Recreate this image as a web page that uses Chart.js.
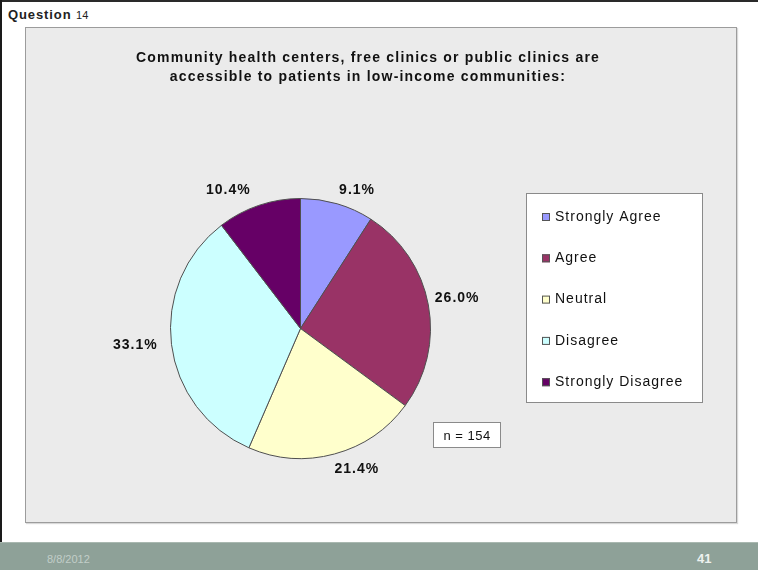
<!doctype html>
<html>

<head>
    <meta charset="utf-8">
    <title>Question 14</title>
    <script src="https://cdn.jsdelivr.net/npm/chart.js"></script>
    <style>
        body {
            margin: 0;
            background: #fff;
            font-family: "Liberation Sans", Arial, sans-serif;
        }

        .slide {
            position: relative;
            width: 758px;
            height: 570px;
            overflow: hidden;
            background: #fff;
        }

        .edge-top {
            position: absolute;
            left: 0;
            top: 0;
            width: 758px;
            height: 2px;
            background: #2a2a2a;
        }

        .edge-left {
            position: absolute;
            left: 0;
            top: 0;
            width: 2px;
            height: 570px;
            background: #1a1a1a;
        }

        .question {
            position: absolute;
            left: 8px;
            top: 7px;
            color: #222;
            font-weight: bold;
            font-size: 13px;
            letter-spacing: 0.9px;
        }

        .question span {
            font-weight: normal;
            font-size: 11px;
            letter-spacing: 0;
        }

        .panel {
            position: absolute;
            left: 25px;
            top: 27px;
            width: 710px;
            height: 494px;
            border: 1px solid #9c9c9c;
            background: #ebebeb;
            box-shadow: 1px 1px 1px rgba(0, 0, 0, 0.15);
        }

        .panel canvas {
            display: block;
        }

        .footer {
            position: absolute;
            left: 0;
            top: 542px;
            width: 758px;
            height: 28px;
            background: #8ea198;
            border-top: 1px solid #a9b8b0;
        }

        .footer .date {
            position: absolute;
            left: 47px;
            top: 10px;
            color: #c2cec8;
            font-size: 11px;
        }

        .footer .page {
            position: absolute;
            left: 697px;
            top: 8px;
            color: #eef2ef;
            font-size: 13px;
            font-weight: bold;
        }
    </style>
</head>

<body>
    <div class="slide">
        <div class="edge-top"></div>
        <div class="edge-left"></div>
        <div class="question">Question <span>14</span></div>

        <div class="panel">
            <canvas id="pie" width="710" height="494"></canvas>
        </div>

        <div class="footer">
            <div class="date">8/8/2012</div>
            <div class="page">41</div>
        </div>
    </div>

    <script>
        var categories = ['Strongly Agree', 'Agree', 'Neutral', 'Disagree', 'Strongly Disagree'];
        var percents = [9.1, 26.0, 21.4, 33.1, 10.4];
        var sliceColors = ['#9999ff', '#993366', '#ffffcc', '#ccffff', '#660066'];
        var titleLines = [
            'Community health centers, free clinics or public clinics are',
            'accessible to patients in low-income communities:'
        ];
        var sampleSize = 154;

        var FONT = '"Liberation Sans", Arial, sans-serif';

        // title, outside percent labels, boxed legend and the n box
        var slideText = {
            id: 'slideText',
            afterDraw: function (chart, args, opts) {
                var ctx = chart.ctx;
                ctx.save();
                ctx.textBaseline = 'middle';

                // title
                ctx.fillStyle = '#111';
                ctx.font = 'bold 14px ' + FONT;
                ctx.letterSpacing = '1.2px';
                ctx.textAlign = 'center';
                titleLines.forEach(function (line, i) {
                    ctx.fillText(line, opts.titleX, opts.titleY + i * opts.titleLead);
                });

                // percent labels just outside each slice
                ctx.letterSpacing = '1px';
                var arcs = chart.getDatasetMeta(0).data;
                arcs.forEach(function (arc, i) {
                    var p = arc.getProps(['x', 'y', 'startAngle', 'endAngle', 'outerRadius'], true);
                    var mid = (p.startAngle + p.endAngle) / 2;
                    var text = percents[i].toFixed(1) + '%';
                    var w = ctx.measureText(text).width;
                    var r = p.outerRadius + 10;
                    var shift = opts.labelShift[i] || [0, 0];
                    var x = p.x + Math.cos(mid) * (r + w / 2) + shift[0];
                    var y = p.y + Math.sin(mid) * (r + 6) + shift[1];
                    ctx.fillText(text, x, y);
                });

                // legend
                var L = opts.legend;
                ctx.fillStyle = '#fff';
                ctx.fillRect(L.x, L.y, L.w, L.h);
                ctx.strokeStyle = '#8a8a8a';
                ctx.lineWidth = 1;
                ctx.strokeRect(L.x + 0.5, L.y + 0.5, L.w - 1, L.h - 1);
                ctx.font = '14px ' + FONT;
                ctx.letterSpacing = '1px';
                ctx.textAlign = 'left';
                categories.forEach(function (name, i) {
                    var y = L.y + L.firstRow + i * L.rowGap;
                    ctx.fillStyle = sliceColors[i];
                    ctx.fillRect(L.x + 16, y - 4, 8, 8);
                    ctx.strokeStyle = '#555';
                    ctx.strokeRect(L.x + 16.5, y - 3.5, 7, 7);
                    ctx.fillStyle = '#111';
                    ctx.fillText(name, L.x + 29, y);
                });

                // sample size box
                var N = opts.nBox;
                ctx.fillStyle = '#fff';
                ctx.fillRect(N.x, N.y, N.w, N.h);
                ctx.strokeStyle = '#8a8a8a';
                ctx.strokeRect(N.x + 0.5, N.y + 0.5, N.w - 1, N.h - 1);
                ctx.fillStyle = '#111';
                ctx.font = '13px ' + FONT;
                ctx.letterSpacing = '0.5px';
                ctx.textAlign = 'center';
                ctx.fillText('n = ' + sampleSize, N.x + N.w / 2, N.y + N.h / 2 + 1);

                ctx.restore();
            }
        };

        var pie = new Chart(document.getElementById('pie'), {
            type: 'pie',
            data: {
                labels: categories,
                datasets: [{
                    data: percents,
                    backgroundColor: sliceColors,
                    borderColor: '#4f4f4f',
                    borderWidth: 1,
                    hoverOffset: 0,
                    offset: 0
                }]
            },
            options: {
                responsive: false,
                animation: false,
                layout: {
                    padding: { left: 144, right: 305, top: 170, bottom: 63 }
                },
                plugins: {
                    legend: { display: false },
                    tooltip: { enabled: false },
                    slideText: {
                        titleX: 342,
                        titleY: 30,
                        titleLead: 19,
                        labelShift: [[12, 2], [-3, -4], [14, 0], [-4, -1], [-20, 0]],
                        legend: { x: 500, y: 165, w: 177, h: 210, firstRow: 24, rowGap: 41.3 },
                        nBox: { x: 407, y: 394, w: 68, h: 26 }
                    }
                }
            },
            plugins: [slideText]
        });
    </script>
</body>

</html>
